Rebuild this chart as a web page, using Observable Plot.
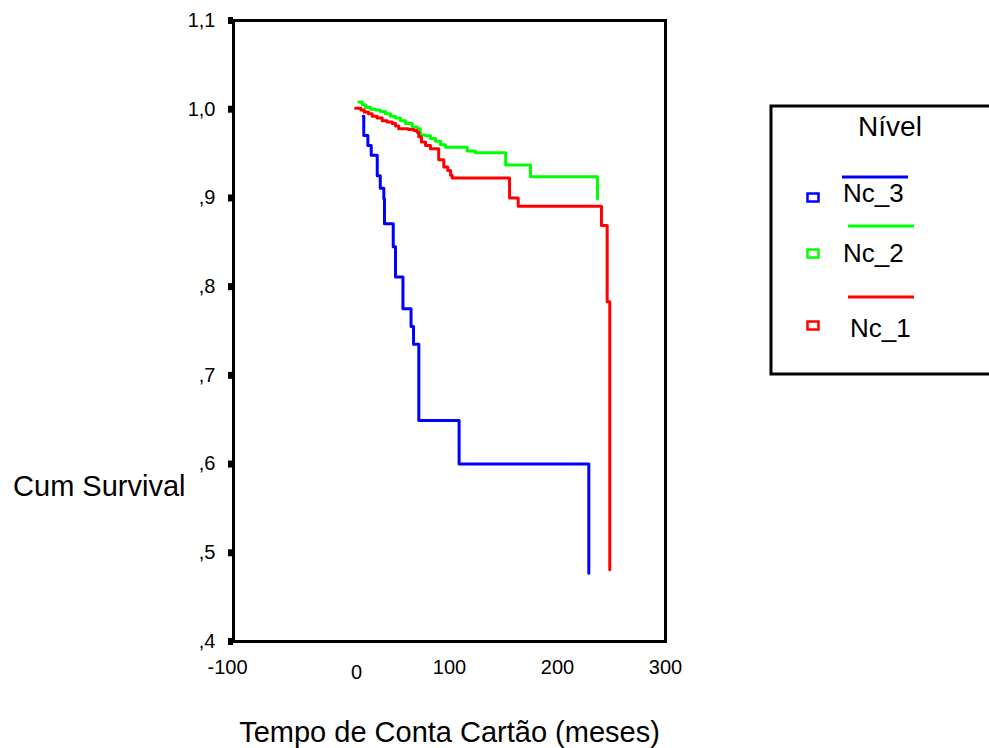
<!DOCTYPE html>
<html><head><meta charset="utf-8">
<script src="https://cdn.jsdelivr.net/npm/d3@7"></script>
<script src="https://cdn.jsdelivr.net/npm/@observablehq/plot@0.6"></script>
<style>body{margin:0;background:#fff;} #chart{width:989px;height:748px;overflow:hidden;}</style>
</head><body><div id="chart"></div>
<script>
// ---- data ----
const seriesNames = ["Nc_3", "Nc_2", "Nc_1"];
const seriesColors = ["#0000ff", "#00ff00", "#ff0000"];

const nc3Time = [20.1, 20.6, 24.4, 27.5, 33.1, 35.9, 39.2, 39.8, 47.9, 50.0, 56.9, 64.4, 66.7, 71.6, 108.9, 229.0];
const nc3Surv = [0.992, 0.9705, 0.959, 0.948, 0.925, 0.911, 0.899, 0.871, 0.845, 0.811, 0.775, 0.755, 0.735, 0.649, 0.600, 0.477];

const nc2Time = [16.0, 19.2, 22.2, 27.0, 31.5, 36.0, 40.7, 45.4, 50.0, 54.6, 59.3, 65.5, 70.0, 73.0, 77.8, 82.4, 87.0, 91.7, 96.3, 116.4, 124.0, 152.0, 175.0, 237.0];
const nc2Surv = [1.008, 1.005, 1.002, 1.000, 0.999, 0.9975, 0.995, 0.992, 0.990, 0.987, 0.984, 0.980, 0.978, 0.971, 0.970, 0.967, 0.964, 0.960, 0.957, 0.953, 0.951, 0.937, 0.924, 0.899];

const nc1Time = [13.0, 18.0, 21.0, 25.0, 28.4, 33.0, 37.7, 42.3, 47.0, 50.0, 53.0, 62.0, 67.0, 70.0, 71.6, 74.0, 77.8, 82.4, 90.0, 94.7, 98.4, 101.0, 102.5, 155.6, 163.6, 240.7, 246.0, 248.4];
const nc1Surv = [1.001, 0.999, 0.997, 0.995, 0.992, 0.990, 0.987, 0.9855, 0.984, 0.981, 0.978, 0.977, 0.976, 0.974, 0.969, 0.963, 0.959, 0.9555, 0.943, 0.935, 0.931, 0.9255, 0.9224, 0.900, 0.8905, 0.869, 0.783, 0.481];

const xTicks = [-100, 0, 100, 200, 300];
const yTicks = [0.4, 0.5, 0.6, 0.7, 0.8, 0.9, 1.0, 1.1];
const xTitle = "Tempo de Conta Cartão (meses)";
const yTitle = "Cum Survival";
const legendTitle = "Nível";

// ---- build table ----
const seriesData = [[nc3Time, nc3Surv], [nc2Time, nc2Surv], [nc1Time, nc1Surv]];
const rows = [];
seriesData.forEach(([ts, ss], i) => ts.forEach((t, j) => rows.push({group: seriesNames[i], t, s: ss[j]})));

const font = "'Liberation Sans', Arial, Helvetica, sans-serif";
const fmtY = d => d3.format(".1f")(d).replace(".", ",").replace(/^0/, "");
const fmtX = d => String(d);
const axisXOpts = {tickSize: 0, tickPadding: 18, fontSize: 20, label: null, tickFormat: fmtX};

const plot = Plot.plot({
  width: 989, height: 748,
  marginTop: 20, marginBottom: 107, marginLeft: 233, marginRight: 324,
  style: {fontFamily: font, fontSize: "20px", background: "white", color: "black", overflow: "visible"},
  x: {domain: [-100, 300]},
  y: {domain: [0.4, 1.1]},
  color: {domain: seriesNames, range: seriesColors},
  marks: [
    Plot.line(rows, {x: "t", y: "s", z: "group", stroke: "group", curve: "step-after", strokeWidth: 3}),
    Plot.frame({stroke: "black", strokeWidth: 3}),
    Plot.axisY(yTicks, {tickSize: 5, strokeWidth: 7, tickPadding: 13, fontSize: 20, tickFormat: fmtY, label: null}),
    Plot.axisX(xTicks.filter(d => d > 0), axisXOpts),
    Plot.axisX(xTicks.filter(d => d < 0), {...axisXOpts, dx: -6}),
    Plot.axisX(xTicks.filter(d => d === 0), {...axisXOpts, dx: 15, dy: 5}),
    Plot.text([xTitle], {frameAnchor: "bottom", lineAnchor: "middle", dy: 91, fontSize: 29}),
    Plot.text([yTitle], {frameAnchor: "left", lineAnchor: "middle", textAnchor: "end", dx: -48, dy: 156, fontSize: 29})
  ]
});

// ---- legend ----
const svg = d3.select(plot);
const lg = svg.append("g").attr("font-family", font).attr("text-anchor", "start");
lg.append("rect").attr("x", 771).attr("y", 106).attr("width", 240).attr("height", 268)
  .attr("fill", "white").attr("stroke", "black").attr("stroke-width", 3);
lg.append("text").attr("x", 890).attr("y", 136).attr("text-anchor", "middle")
  .attr("font-size", 28).text(legendTitle);
const lineY = [177, 226, 297];
const lineX0 = [842, 848, 848];
const boxY = [197.5, 253.5, 325.5];
const textX = [843, 843, 850];
const textY = [202, 262, 337];
seriesNames.forEach((name, i) => {
  lg.append("line").attr("x1", lineX0[i]).attr("x2", lineX0[i] + 66)
    .attr("y1", lineY[i]).attr("y2", lineY[i])
    .attr("stroke", seriesColors[i]).attr("stroke-width", 3);
  lg.append("rect").attr("x", 807.5).attr("y", boxY[i] - 4).attr("width", 11).attr("height", 8)
    .attr("fill", "none").attr("stroke", seriesColors[i]).attr("stroke-width", 2.5);
  lg.append("text").attr("x", textX[i]).attr("y", textY[i]).attr("text-anchor", "start")
    .attr("font-size", 26).text(name);
});

document.getElementById("chart").appendChild(plot);
</script>
</body></html>
